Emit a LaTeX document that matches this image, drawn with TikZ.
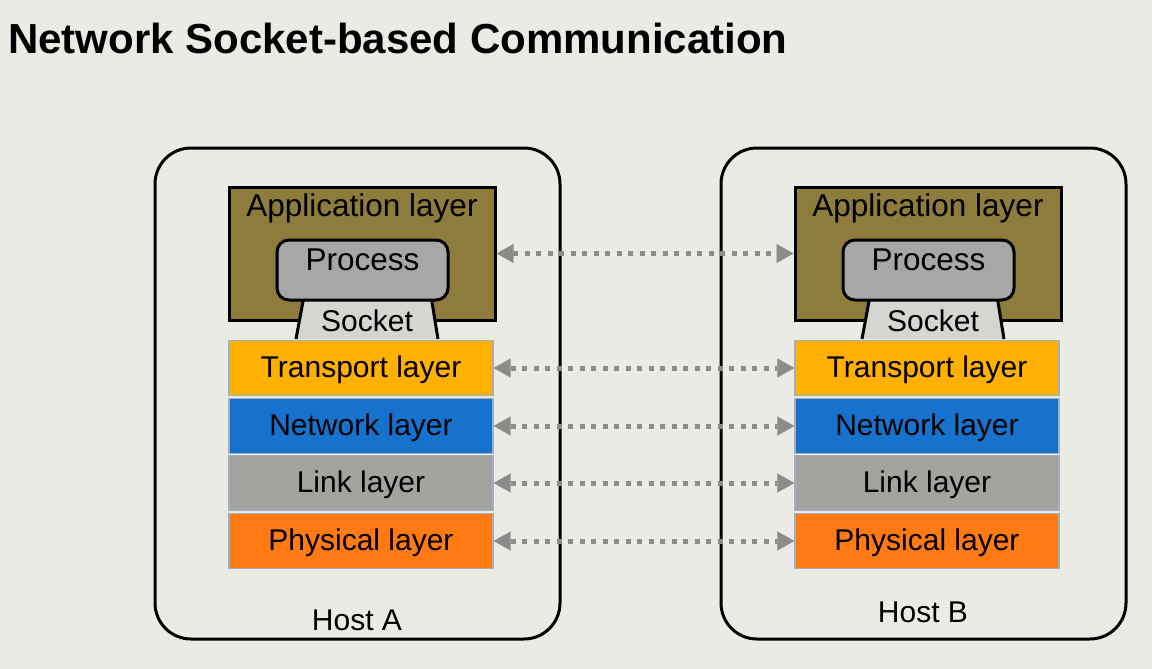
\documentclass[tikz,border=0pt]{standalone}
\usepackage{fontspec}
\setmainfont{Liberation Sans}
\usetikzlibrary{arrows.meta}
\definecolor{bgcol}{HTML}{EBEBE6}
\definecolor{appcol}{HTML}{8E7C3C}
\definecolor{proccol}{HTML}{A7A7A5}
\definecolor{sockcol}{HTML}{D5D6D2}
\definecolor{transcol}{HTML}{FFB000}
\definecolor{netcol}{HTML}{1772CD}
\definecolor{linkcol}{HTML}{A3A3A0}
\definecolor{physcol}{HTML}{FF7A12}
\definecolor{edgecol}{HTML}{A2B0BE}
\definecolor{peercol}{HTML}{8C8C8A}
\begin{document}
\begin{tikzpicture}[
  x=1pt,
  y=-1pt,
  host/.style={draw=black,line width=3pt,rounded corners=36pt},
  applayer/.style={draw=black,line width=3pt,fill=appcol,minimum width=266pt,minimum height=133pt,inner sep=0pt},
  proc/.style={draw=black,line width=3pt,fill=proccol,rounded corners=12pt,minimum width=171pt,minimum height=60pt,inner sep=0pt},
  sock/.style={fill=sockcol},
  sockside/.style={draw=black,line width=3pt},
  layer/.style={draw=edgecol,line width=1.2pt,minimum width=264pt,minimum height=55pt,inner sep=0pt},
  lbl/.style={font=\fontsize{30}{32}\selectfont,inner sep=0pt},
  biglbl/.style={font=\fontsize{31.5}{33}\selectfont,inner sep=0pt},
  peer/.style={draw=peercol,line width=5pt,dash pattern=on 5pt off 6.5pt,
    {Triangle[length=17pt,width=19pt,line width=0.1pt]}-{Triangle[length=17pt,width=19pt,line width=0.1pt]}}
]
  \useasboundingbox[fill=bgcol] (0,0) rectangle (1152,669);

  \node[anchor=base west,inner sep=0pt,font=\fontsize{42}{44}\bfseries\selectfont] (title) at (8,54) {Network Socket-based Communication};

  \foreach \h/\dx/\hy in {A/0/620,B/566/612} {
    \draw[host] (155+\dx,148) rectangle (560+\dx,639);
    \node[applayer] (app\h) at (362+\dx,253.5) {};
    \node[biglbl] at (362+\dx,208) {Application layer};
    \fill[sock] (304+\dx,296) -- (296+\dx,339) -- (438+\dx,339) -- (431+\dx,296) -- cycle;
    \draw[sockside] (304+\dx,296) -- (296+\dx,339);
    \draw[sockside] (431+\dx,296) -- (438+\dx,339);
    \node[proc] (proc\h) at (362.5+\dx,270) {};
    \node[biglbl] at (362.5+\dx,260) {Process};
    \node[lbl] (sock\h) at (367+\dx,321) {Socket};
    \foreach \n/\txt/\col/\y in {tr/Transport layer/transcol/368,
                                  net/Network layer/netcol/426,
                                  lnk/Link layer/linkcol/483,
                                  phy/Physical layer/physcol/541} {
      \node[layer,fill=\col] (\n\h) at (361+\dx,\y) {};
      \node[lbl] at (361+\dx,\y+2) {\txt};
    }
    \node[lbl] (host\h) at (357+\dx,\hy) {Host \h};
  }

  \draw[peer] (appA) -- (appB);
  \draw[peer] (trA) -- (trB);
  \draw[peer] (netA) -- (netB);
  \draw[peer] (lnkA) -- (lnkB);
  \draw[peer] (phyA) -- (phyB);
\end{tikzpicture}
\end{document}
